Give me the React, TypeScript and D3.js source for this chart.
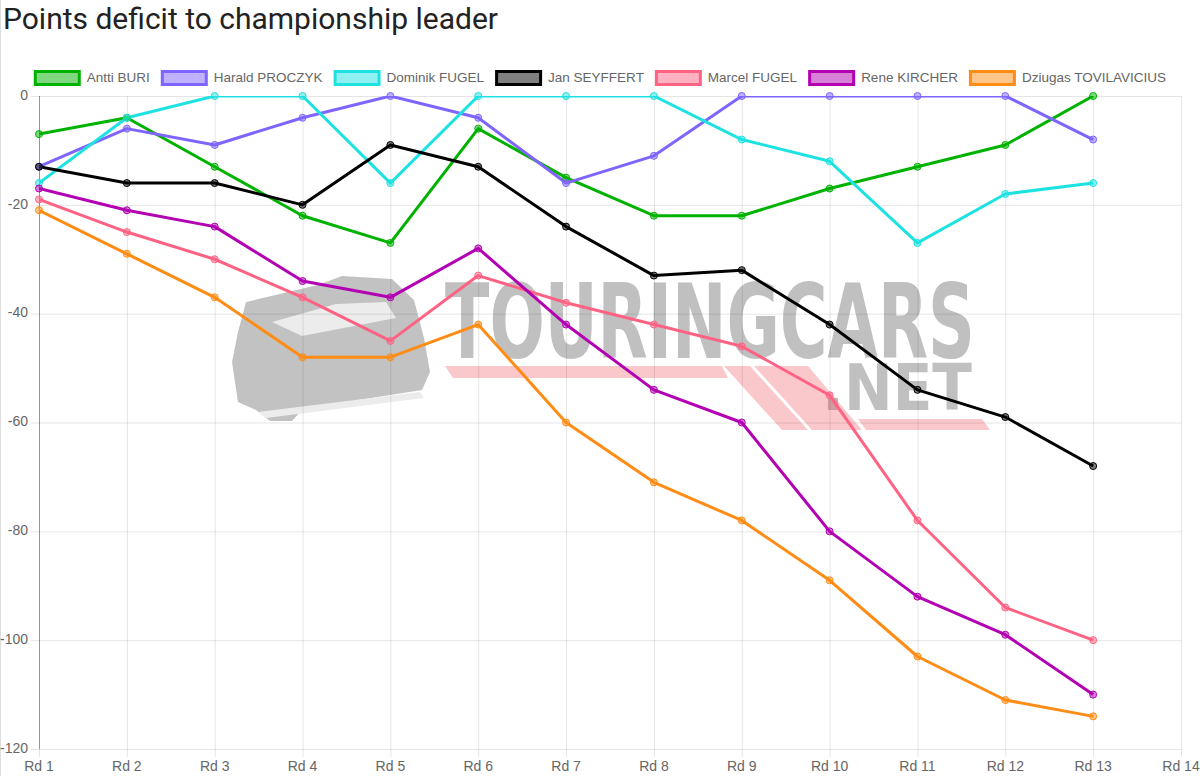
import React from 'react';
import * as d3 from 'd3';

const width = 1200;
const height = 776;

const rounds = ['Rd 1', 'Rd 2', 'Rd 3', 'Rd 4', 'Rd 5', 'Rd 6', 'Rd 7', 'Rd 8', 'Rd 9', 'Rd 10', 'Rd 11', 'Rd 12', 'Rd 13', 'Rd 14'];
const yTicks = [0, -20, -40, -60, -80, -100, -120];

const drivers = ['Antti BURI', 'Harald PROCZYK', 'Dominik FUGEL', 'Jan SEYFFERT', 'Marcel FUGEL', 'Rene KIRCHER', 'Dziugas TOVILAVICIUS'];
const colors = ['rgb(0,178,0)', 'rgb(128,100,255)', 'rgb(30,226,226)', 'rgb(0,0,0)', 'rgb(255,99,132)', 'rgb(178,0,178)', 'rgb(255,140,20)'];

const buri = [-7, -4, -13, -22, -27, -6, -15, -22, -22, -17, -13, -9, 0];
const proczyk = [-13, -6, -9, -4, 0, -4, -16, -11, 0, 0, 0, 0, -8];
const dFugel = [-16, -4, 0, 0, -16, 0, 0, 0, -8, -12, -27, -18, -16];
const seyffert = [-13, -16, -16, -20, -9, -13, -24, -33, -32, -42, -54, -59, -68];
const mFugel = [-19, -25, -30, -37, -45, -33, -38, -42, -46, -55, -78, -94, -100];
const kircher = [-17, -21, -24, -34, -37, -28, -42, -54, -60, -80, -92, -99, -110];
const tovilavicius = [-21, -29, -37, -48, -48, -42, -60, -71, -78, -89, -103, -111, -114];

const series = [buri, proczyk, dFugel, seyffert, mFugel, kircher, tovilavicius];

const area = { left: 39, right: 1181, top: 96, bottom: 749 };
const legendSize = 13.5;
const legendFont = `${legendSize}px 'Liberation Sans', Arial, sans-serif`;

const fade = (c: string, a: number) => {
  const col = d3.color(c)!;
  col.opacity = a;
  return col.formatRgb();
};

let ctx: CanvasRenderingContext2D | null = null;
const measure = (s: string) => {
  if (!ctx) ctx = document.createElement('canvas').getContext('2d');
  ctx!.font = legendFont;
  return ctx!.measureText(s).width;
};

// rough copy of the site logo sitting behind the plot
const Watermark: React.FC = () => (
  <g>
    <path
      d="M238,332 L246,302 L318,285 L342,276 L392,279 L414,300 L424,338 L430,372 L422,390 L346,402 L302,410 L292,421 L270,421 L256,410 L238,402 L232,362 Z"
      fill="#c2c2c2"
    />
    <path d="M272,322 L336,304 L386,302 L396,318 L302,336 Z" fill="#ececec" />
    <path d="M258,412 L420,392 L424,398 L266,418 Z" fill="#ececec" />
    <text
      x={445}
      y={358}
      textLength={530}
      lengthAdjust="spacingAndGlyphs"
      fontFamily="'DejaVu Sans Condensed', 'DejaVu Sans', sans-serif"
      fontWeight="bold"
      fontSize={104}
      fill="#c0c0c0"
    >
      TOURINGCARS
    </text>
    <text
      x={822}
      y={410}
      textLength={150}
      lengthAdjust="spacingAndGlyphs"
      fontFamily="'DejaVu Sans Condensed', 'DejaVu Sans', sans-serif"
      fontWeight="bold"
      fontSize={64}
      fill="#c0c0c0"
    >
      .NET
    </text>
    <g fill="rgba(240,80,90,0.32)">
      <path d="M445,366 L722,366 L728,378 L453,378 Z" />
      <path d="M724,366 L750,366 L808,430 L782,430 Z" />
      <path d="M754,366 L808,366 L862,430 L812,430 Z" />
      <path d="M858,419 L982,419 L990,430 L866,430 Z" />
    </g>
  </g>
);

const App: React.FC = () => {
  const x = d3.scalePoint<string>().domain(rounds).range([area.left, area.right]);
  const y = d3.scaleLinear().domain([-120, 0]).range([area.bottom, area.top]);

  const line = d3
    .line<number>()
    .x((_, i) => x(rounds[i])!)
    .y(d => y(d));

  // legend layout, centred like chart.js
  const boxW = 44;
  const boxH = 13;
  const items = drivers.map(name => ({ name, w: boxW + 3 + 6 + measure(name) }));
  const gap = 11;
  const total = d3.sum(items, d => d.w) + gap * (items.length - 1);
  let cursor = (width - total) / 2;
  const legendY = 78;
  const legend = items.map((it, i) => {
    const start = cursor;
    cursor += it.w + gap;
    return { ...it, x: start, color: colors[i] };
  });

  return (
    <svg width={width} height={height} style={{ position: 'absolute', left: 0, top: 0, background: '#fff' }}>
      <line x1={0.5} x2={0.5} y1={0} y2={height} stroke="#ddd" />
      <text x={3} y={29} fontFamily="Roboto, sans-serif" fontSize={30} fill="#222">
        Points deficit to championship leader
      </text>

      <Watermark />

      {/* grid */}
      <g stroke="rgba(0,0,0,0.1)" strokeWidth={1}>
        {rounds.map(r => (
          <line key={r} x1={x(r)! + 0.5} x2={x(r)! + 0.5} y1={area.top} y2={area.bottom + 8} />
        ))}
        {yTicks.map(t => (
          <line key={t} x1={area.left - 8} x2={area.right} y1={y(t) + 0.5} y2={y(t) + 0.5} />
        ))}
      </g>
      <line x1={area.left + 0.5} x2={area.left + 0.5} y1={area.top} y2={area.bottom} stroke="rgba(0,0,0,0.35)" />

      <g fontFamily="'Liberation Sans', Arial, sans-serif" fontSize={14} fill="#666">
        {yTicks.map(t => (
          <text key={t} x={28} y={y(t)} textAnchor="end" dominantBaseline="middle">
            {t}
          </text>
        ))}
        {rounds.map(r => (
          <text key={r} x={x(r)} y={771} textAnchor="middle">
            {r}
          </text>
        ))}
      </g>

      <defs>
        <clipPath id="plot">
          <rect x={area.left} y={area.top} width={area.right - area.left} height={area.bottom - area.top} />
        </clipPath>
      </defs>

      <g clipPath="url(#plot)" fill="none">
        {series.map((s, i) => (
          <path key={drivers[i]} d={line(s)!} stroke={colors[i]} strokeWidth={3} strokeLinejoin="round" />
        ))}
      </g>
      {series.map((s, i) => (
        <g key={drivers[i]}>
          {s.map((v, j) => (
            <circle
              key={j}
              cx={x(rounds[j])}
              cy={y(v)}
              r={3.5}
              fill={fade(colors[i], 0.5)}
              stroke={colors[i]}
              strokeWidth={1}
            />
          ))}
        </g>
      ))}

      <g fontFamily="'Liberation Sans', Arial, sans-serif" fontSize={legendSize} fill="#666">
        {legend.map(l => (
          <g key={l.name}>
            <rect
              x={l.x + 1.5}
              y={legendY - boxH / 2}
              width={boxW}
              height={boxH}
              fill={fade(l.color, 0.5)}
              stroke={l.color}
              strokeWidth={3}
            />
            <text x={l.x + boxW + 3 + 6} y={legendY} dominantBaseline="middle">
              {l.name}
            </text>
          </g>
        ))}
      </g>
    </svg>
  );
};

export default App;
